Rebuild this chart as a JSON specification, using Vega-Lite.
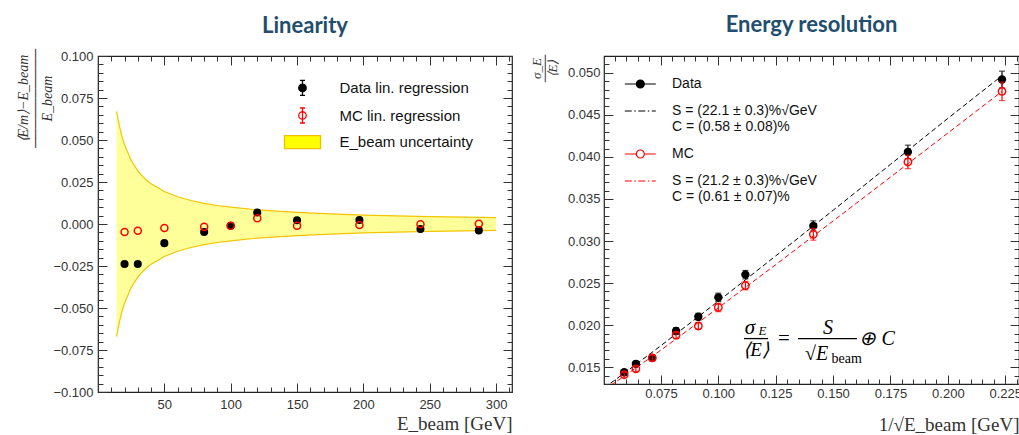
{
  "$schema": "https://vega.github.io/schema/vega-lite/v6.json",
  "background": "white",
  "padding": {"left": 15, "top": 13, "right": 1, "bottom": 0},
  "bounds": "flush",
  "spacing": 92,
  "config": {
    "view": {"stroke": "#222", "strokeWidth": 1.2},
    "axis": {"domain": false, "grid": false, "labelFont": "Liberation Sans", "labelFontSize": 13, "labelColor": "#333", "tickColor": "#333", "tickWidth": 1, "titleFont": "Liberation Serif", "titleFontWeight": "normal", "titleColor": "#333", "labelOverlap": false, "labelFlush": false, "labelBound": false},
    "legend": {"labelFont": "Liberation Sans", "labelColor": "#111", "labelLimit": 400}
  },
  "resolve": {"scale": {"fill": "independent", "stroke": "independent", "shape": "independent", "x": "independent", "y": "independent"}, "legend": {"fill": "independent", "stroke": "independent", "shape": "independent"}},
  "datasets": {
    "band": [
      {"E": 14, "up": 0.067, "lo": -0.067},
      {"E": 16, "up": 0.0587, "lo": -0.0587},
      {"E": 18, "up": 0.0523, "lo": -0.0523},
      {"E": 20, "up": 0.0471, "lo": -0.0471},
      {"E": 25, "up": 0.0378, "lo": -0.0378},
      {"E": 30, "up": 0.0316, "lo": -0.0316},
      {"E": 35, "up": 0.0272, "lo": -0.0272},
      {"E": 40, "up": 0.0239, "lo": -0.0239},
      {"E": 50, "up": 0.0193, "lo": -0.0193},
      {"E": 60, "up": 0.0162, "lo": -0.0162},
      {"E": 70, "up": 0.014, "lo": -0.014},
      {"E": 80, "up": 0.0123, "lo": -0.0123},
      {"E": 90, "up": 0.011, "lo": -0.011},
      {"E": 100, "up": 0.01, "lo": -0.01},
      {"E": 120, "up": 0.0084, "lo": -0.0084},
      {"E": 150, "up": 0.0069, "lo": -0.0069},
      {"E": 175, "up": 0.006, "lo": -0.006},
      {"E": 200, "up": 0.0053, "lo": -0.0053},
      {"E": 250, "up": 0.0044, "lo": -0.0044},
      {"E": 300, "up": 0.0038, "lo": -0.0038}
    ],
    "lin": [
      {"E": 20, "s": "Data", "v": -0.0238},
      {"E": 30, "s": "Data", "v": -0.0238},
      {"E": 50, "s": "Data", "v": -0.0114},
      {"E": 80, "s": "Data", "v": -0.0048},
      {"E": 100, "s": "Data", "v": -0.001},
      {"E": 120, "s": "Data", "v": 0.0068},
      {"E": 150, "s": "Data", "v": 0.0022},
      {"E": 197, "s": "Data", "v": 0.0024},
      {"E": 243, "s": "Data", "v": -0.003},
      {"E": 287, "s": "Data", "v": -0.0038},
      {"E": 20, "s": "MC", "v": -0.0048},
      {"E": 30, "s": "MC", "v": -0.004},
      {"E": 50, "s": "MC", "v": -0.0024},
      {"E": 80, "s": "MC", "v": -0.0017},
      {"E": 100, "s": "MC", "v": -0.001},
      {"E": 120, "s": "MC", "v": 0.0034},
      {"E": 150, "s": "MC", "v": -0.001},
      {"E": 197, "s": "MC", "v": -0.0006},
      {"E": 243, "s": "MC", "v": -0.0002},
      {"E": 287, "s": "MC", "v": 0.0002}
    ],
    "res": [
      {"s": "Data", "x": 0.2236, "y": 0.0492, "lo": 0.0482, "hi": 0.0502},
      {"s": "Data", "x": 0.1826, "y": 0.0406, "lo": 0.0398, "hi": 0.0414},
      {"s": "Data", "x": 0.1414, "y": 0.0318, "lo": 0.0312, "hi": 0.0324},
      {"s": "Data", "x": 0.1118, "y": 0.026, "lo": 0.0255, "hi": 0.0265},
      {"s": "Data", "x": 0.1, "y": 0.0233, "lo": 0.0228, "hi": 0.0238},
      {"s": "Data", "x": 0.0913, "y": 0.021, "lo": 0.0206, "hi": 0.0214},
      {"s": "Data", "x": 0.0816, "y": 0.0193, "lo": 0.0189, "hi": 0.0197},
      {"s": "Data", "x": 0.0712, "y": 0.0161, "lo": 0.0158, "hi": 0.0164},
      {"s": "Data", "x": 0.0641, "y": 0.0154, "lo": 0.0151, "hi": 0.0157},
      {"s": "Data", "x": 0.059, "y": 0.0144, "lo": 0.0141, "hi": 0.0147},
      {"s": "MC", "x": 0.2236, "y": 0.0478, "lo": 0.0467, "hi": 0.0489},
      {"s": "MC", "x": 0.1826, "y": 0.0394, "lo": 0.0386, "hi": 0.0402},
      {"s": "MC", "x": 0.1414, "y": 0.0308, "lo": 0.0301, "hi": 0.0315},
      {"s": "MC", "x": 0.1118, "y": 0.0247, "lo": 0.0242, "hi": 0.0252},
      {"s": "MC", "x": 0.1, "y": 0.0221, "lo": 0.0216, "hi": 0.0226},
      {"s": "MC", "x": 0.0913, "y": 0.0199, "lo": 0.0195, "hi": 0.0203},
      {"s": "MC", "x": 0.0816, "y": 0.0188, "lo": 0.0184, "hi": 0.0192},
      {"s": "MC", "x": 0.0712, "y": 0.0161, "lo": 0.0158, "hi": 0.0164},
      {"s": "MC", "x": 0.0641, "y": 0.0148, "lo": 0.0145, "hi": 0.0151},
      {"s": "MC", "x": 0.059, "y": 0.0141, "lo": 0.0138, "hi": 0.0144}
    ],
    "fit": [
      {"s": "Data", "x": 0.0502, "y": 0.01258},
      {"s": "Data", "x": 0.055, "y": 0.01347},
      {"s": "Data", "x": 0.075, "y": 0.01756},
      {"s": "Data", "x": 0.1, "y": 0.02285},
      {"s": "Data", "x": 0.125, "y": 0.02823},
      {"s": "Data", "x": 0.15, "y": 0.03365},
      {"s": "Data", "x": 0.175, "y": 0.03911},
      {"s": "Data", "x": 0.2, "y": 0.04458},
      {"s": "Data", "x": 0.2236, "y": 0.04966},
      {"s": "MC", "x": 0.0502, "y": 0.01232},
      {"s": "MC", "x": 0.059, "y": 0.01392},
      {"s": "MC", "x": 0.075, "y": 0.01703},
      {"s": "MC", "x": 0.1, "y": 0.02206},
      {"s": "MC", "x": 0.125, "y": 0.02719},
      {"s": "MC", "x": 0.15, "y": 0.03238},
      {"s": "MC", "x": 0.175, "y": 0.0376},
      {"s": "MC", "x": 0.2, "y": 0.04284},
      {"s": "MC", "x": 0.2236, "y": 0.04779}
    ],
    "leg1": [
      {"k1": "Data lin. regression"},
      {"k1": "MC lin. regression"},
      {"k1": "E_beam uncertainty"}
    ],
    "leg2": [
      {"k2": "Data"},
      {"k2": "fitData"},
      {"k2": "MC"},
      {"k2": "fitMC"}
    ],
    "one": [{}]
  },
  "hconcat": [
    {
      "width": 414,
      "height": 336,
      "title": {"text": "Linearity", "font": "Lato", "fontSize": 22, "fontWeight": "bold", "color": "#1f4e6f", "baseline": "alphabetic", "offset": -7},
      "resolve": {"axis": {"x": "independent", "y": "independent"}},
      "layer": [
        {
          "data": {"name": "band"},
          "mark": {"type": "area", "fill": "#ffff00", "fillOpacity": 0.4},
          "encoding": {
            "x": {"field": "E", "type": "quantitative", "scale": {"domain": [0, 312], "nice": false, "zero": false},
              "axis": {"orient": "bottom", "values": [10,20,30,40,50,60,70,80,90,100,110,120,130,140,150,160,170,180,190,200,210,220,230,240,250,260,270,280,290,300,310], "format": "d", "labelExpr": "datum.value % 50 === 0 ? datum.label : ''", "tickSize": {"condition": {"test": "datum.value % 50 === 0", "value": -9}, "value": -5}, "labelPadding": 15, "title": "E_beam [GeV]", "titleAnchor": "end", "titleAlign": "right", "titlePadding": -1, "titleFontSize": 19}},
            "y": {"field": "up", "type": "quantitative", "scale": {"domain": [-0.1, 0.1], "nice": false, "zero": false},
              "axis": {"orient": "left", "values": [-0.1,-0.095,-0.09,-0.085,-0.08,-0.075,-0.07,-0.065,-0.06,-0.055,-0.05,-0.045,-0.04,-0.035,-0.03,-0.025,-0.02,-0.015,-0.01,-0.005,0,0.005,0.01,0.015,0.02,0.025,0.03,0.035,0.04,0.045,0.05,0.055,0.06,0.065,0.07,0.075,0.08,0.085,0.09,0.095,0.1], "format": ".3f", "labelExpr": "abs(datum.value*40 - round(datum.value*40)) < 0.001 ? datum.label : ''", "tickSize": {"condition": {"test": "abs(datum.value*40 - round(datum.value*40)) < 0.001", "value": -9}, "value": -5}, "labelPadding": 14,
                "title": ["⟨E/m⟩−E_beam", "──────────", "E_beam"], "titleFontSize": 14, "titleFontStyle": "italic", "titleLineHeight": 12, "titleAngle": -90, "titleX": -75, "titleY": 42, "titleAlign": "center", "titleBaseline": "middle"}},
            "y2": {"field": "lo"}
          }
        },
        {
          "data": {"name": "band"},
          "mark": {"type": "line", "color": "#f2c500", "strokeWidth": 1.2},
          "encoding": {
            "x": {"field": "E", "type": "quantitative", "scale": {"domain": [0, 312], "nice": false, "zero": false},
              "axis": {"orient": "top", "values": [10,20,30,40,50,60,70,80,90,100,110,120,130,140,150,160,170,180,190,200,210,220,230,240,250,260,270,280,290,300,310], "labels": false, "title": null, "tickSize": {"condition": {"test": "datum.value % 50 === 0", "value": -9}, "value": -5}}},
            "y": {"field": "up", "type": "quantitative", "scale": {"domain": [-0.1, 0.1], "nice": false, "zero": false},
              "axis": {"orient": "right", "values": [-0.1,-0.095,-0.09,-0.085,-0.08,-0.075,-0.07,-0.065,-0.06,-0.055,-0.05,-0.045,-0.04,-0.035,-0.03,-0.025,-0.02,-0.015,-0.01,-0.005,0,0.005,0.01,0.015,0.02,0.025,0.03,0.035,0.04,0.045,0.05,0.055,0.06,0.065,0.07,0.075,0.08,0.085,0.09,0.095,0.1], "labels": false, "title": null, "tickSize": {"condition": {"test": "abs(datum.value*40 - round(datum.value*40)) < 0.001", "value": -9}, "value": -5}}}
          }
        },
        {
          "data": {"name": "band"},
          "mark": {"type": "line", "color": "#f2c500", "strokeWidth": 1.2},
          "encoding": {
            "x": {"field": "E", "type": "quantitative", "scale": {"domain": [0, 312], "nice": false, "zero": false}, "axis": null},
            "y": {"field": "lo", "type": "quantitative", "scale": {"domain": [-0.1, 0.1], "nice": false, "zero": false}, "axis": null}
          }
        },
        {
          "data": {"name": "lin"},
          "transform": [{"filter": "datum.s === 'Data'"}],
          "mark": {"type": "point", "filled": true, "color": "black", "size": 65, "opacity": 1},
          "encoding": {
            "x": {"field": "E", "type": "quantitative", "scale": {"domain": [0, 312], "nice": false, "zero": false}, "axis": null},
            "y": {"field": "v", "type": "quantitative", "scale": {"domain": [-0.1, 0.1], "nice": false, "zero": false}, "axis": null}
          }
        },
        {
          "data": {"name": "lin"},
          "transform": [{"filter": "datum.s === 'MC'"}],
          "mark": {"type": "point", "filled": false, "color": "#ff0000", "size": 50, "strokeWidth": 1.5, "opacity": 1},
          "encoding": {
            "x": {"field": "E", "type": "quantitative", "scale": {"domain": [0, 312], "nice": false, "zero": false}, "axis": null},
            "y": {"field": "v", "type": "quantitative", "scale": {"domain": [-0.1, 0.1], "nice": false, "zero": false}, "axis": null}
          }
        },
        {
          "data": {"name": "leg1"},
          "mark": {"type": "point", "clip": true, "filled": false, "opacity": 1},
          "encoding": {
            "x": {"datum": -100, "type": "quantitative", "scale": {"domain": [0, 312], "nice": false, "zero": false}, "axis": null},
            "y": {"datum": 0, "type": "quantitative", "scale": {"domain": [-0.1, 0.1], "nice": false, "zero": false}, "axis": null},
            "shape": {"field": "k1", "type": "nominal", "scale": {"domain": ["Data lin. regression", "MC lin. regression", "E_beam uncertainty"], "range": ["M-0.75,0A0.75,0.75 0 1,0 0.75,0A0.75,0.75 0 1,0 -0.75,0ZM0,-1.5V-0.75M0,0.75V1.5M-0.5,-1.5H0.5M-0.5,1.5H0.5", "M-0.75,0A0.75,0.75 0 1,0 0.75,0A0.75,0.75 0 1,0 -0.75,0ZM0,-1.5V1.5M-0.5,-1.5H0.5M-0.5,1.5H0.5", "M-3.6,-1.3H3.6V1.3H-3.6Z"]},
              "legend": {"orient": "none", "legendX": 197, "legendY": 24.4, "title": null, "labelFontSize": 15, "symbolSize": 100, "labelOffset": 29.5, "rowPadding": 6.6, "padding": 0, "symbolStrokeWidth": 1.3}},
            "fill": {"field": "k1", "type": "nominal", "scale": {"domain": ["Data lin. regression", "MC lin. regression", "E_beam uncertainty"], "range": ["#000000", "rgba(0,0,0,0)", "#ffff00"]},
              "legend": {"orient": "none", "legendX": 197, "legendY": 24.4, "title": null, "labelFontSize": 15, "symbolSize": 100, "labelOffset": 29.5, "rowPadding": 6.6, "padding": 0, "symbolStrokeWidth": 1.3}},
            "stroke": {"field": "k1", "type": "nominal", "scale": {"domain": ["Data lin. regression", "MC lin. regression", "E_beam uncertainty"], "range": ["#000000", "#ff0000", "#f0c000"]},
              "legend": {"orient": "none", "legendX": 197, "legendY": 24.4, "title": null, "labelFontSize": 15, "symbolSize": 100, "labelOffset": 29.5, "rowPadding": 6.6, "padding": 0, "symbolStrokeWidth": 1.3}}
          }
        }
      ]
    },
    {
      "width": 415,
      "height": 328,
      "title": {"text": "Energy resolution", "font": "Lato", "fontSize": 22, "fontWeight": "bold", "color": "#1f4e6f", "baseline": "alphabetic", "offset": 0},
      "resolve": {"axis": {"x": "independent", "y": "independent"}},
      "layer": [
        {
          "data": {"name": "fit"},
          "transform": [{"filter": "datum.s === 'Data'"}],
          "mark": {"type": "line", "color": "#000000", "strokeWidth": 1, "strokeDash": [5, 3], "clip": true},
          "encoding": {
            "x": {"field": "x", "type": "quantitative", "scale": {"domain": [0.0502, 0.231], "nice": false, "zero": false},
              "axis": {"orient": "bottom", "values": [0.055,0.06,0.065,0.07,0.075,0.08,0.085,0.09,0.095,0.1,0.105,0.11,0.115,0.12,0.125,0.13,0.135,0.14,0.145,0.15,0.155,0.16,0.165,0.17,0.175,0.18,0.185,0.19,0.195,0.2,0.205,0.21,0.215,0.22,0.225,0.23], "format": ".3f", "labelExpr": "abs(datum.value*40 - round(datum.value*40)) < 0.001 ? datum.label : ''", "tickSize": {"condition": {"test": "abs(datum.value*40 - round(datum.value*40)) < 0.001", "value": -9}, "value": -5}, "labelPadding": 12, "title": "1/√E_beam [GeV]", "titleAnchor": "end", "titleAlign": "right", "titlePadding": 11, "titleFontSize": 19}},
            "y": {"field": "y", "type": "quantitative", "scale": {"domain": [0.013, 0.052], "nice": false, "zero": false},
              "axis": {"orient": "left", "values": [0.013,0.014,0.015,0.016,0.017,0.018,0.019,0.02,0.021,0.022,0.023,0.024,0.025,0.026,0.027,0.028,0.029,0.03,0.031,0.032,0.033,0.034,0.035,0.036,0.037,0.038,0.039,0.04,0.041,0.042,0.043,0.044,0.045,0.046,0.047,0.048,0.049,0.05,0.051], "format": ".3f", "labelExpr": "abs(datum.value*200 - round(datum.value*200)) < 0.001 ? datum.label : ''", "tickSize": {"condition": {"test": "abs(datum.value*200 - round(datum.value*200)) < 0.001", "value": -9}, "value": -5}, "labelPadding": 13,
                "title": ["σ_E", "───", "⟨E⟩"], "titleFontSize": 13, "titleFontStyle": "italic", "titleLineHeight": 8, "titleAngle": -90, "titleX": -68, "titleY": 12, "titleAlign": "center", "titleBaseline": "middle"}}
          }
        },
        {
          "data": {"name": "fit"},
          "transform": [{"filter": "datum.s === 'MC'"}],
          "mark": {"type": "line", "color": "#ff0000", "strokeWidth": 1, "strokeDash": [5, 3], "clip": true},
          "encoding": {
            "x": {"field": "x", "type": "quantitative", "scale": {"domain": [0.0502, 0.231], "nice": false, "zero": false},
              "axis": {"orient": "top", "values": [0.055,0.06,0.065,0.07,0.075,0.08,0.085,0.09,0.095,0.1,0.105,0.11,0.115,0.12,0.125,0.13,0.135,0.14,0.145,0.15,0.155,0.16,0.165,0.17,0.175,0.18,0.185,0.19,0.195,0.2,0.205,0.21,0.215,0.22,0.225,0.23], "labels": false, "title": null, "tickSize": {"condition": {"test": "abs(datum.value*40 - round(datum.value*40)) < 0.001", "value": -9}, "value": -5}}},
            "y": {"field": "y", "type": "quantitative", "scale": {"domain": [0.013, 0.052], "nice": false, "zero": false},
              "axis": {"orient": "right", "values": [0.013,0.014,0.015,0.016,0.017,0.018,0.019,0.02,0.021,0.022,0.023,0.024,0.025,0.026,0.027,0.028,0.029,0.03,0.031,0.032,0.033,0.034,0.035,0.036,0.037,0.038,0.039,0.04,0.041,0.042,0.043,0.044,0.045,0.046,0.047,0.048,0.049,0.05,0.051], "labels": false, "title": null, "tickSize": {"condition": {"test": "abs(datum.value*200 - round(datum.value*200)) < 0.001", "value": -9}, "value": -5}}}
          }
        },
        {
          "data": {"name": "res"},
          "transform": [{"filter": "datum.s === 'Data'"}],
          "mark": {"type": "rule", "color": "#000000", "strokeWidth": 1.2},
          "encoding": {
            "x": {"field": "x", "type": "quantitative", "scale": {"domain": [0.0502, 0.231], "nice": false, "zero": false}, "axis": null},
            "y": {"field": "lo", "type": "quantitative", "scale": {"domain": [0.013, 0.052], "nice": false, "zero": false}, "axis": null},
            "y2": {"field": "hi"}
          }
        },
        {
          "data": {"name": "res"},
          "transform": [{"filter": "datum.s === 'Data'"}, {"fold": ["lo", "hi"], "as": ["k", "v"]}],
          "mark": {"type": "tick", "orient": "horizontal", "color": "#000000", "size": 6, "thickness": 1.2},
          "encoding": {
            "x": {"field": "x", "type": "quantitative", "scale": {"domain": [0.0502, 0.231], "nice": false, "zero": false}, "axis": null},
            "y": {"field": "v", "type": "quantitative", "scale": {"domain": [0.013, 0.052], "nice": false, "zero": false}, "axis": null}
          }
        },
        {
          "data": {"name": "res"},
          "transform": [{"filter": "datum.s === 'Data'"}],
          "mark": {"type": "point", "filled": true, "color": "#000000", "size": 70, "opacity": 1},
          "encoding": {
            "x": {"field": "x", "type": "quantitative", "scale": {"domain": [0.0502, 0.231], "nice": false, "zero": false}, "axis": null},
            "y": {"field": "y", "type": "quantitative", "scale": {"domain": [0.013, 0.052], "nice": false, "zero": false}, "axis": null}
          }
        },
        {
          "data": {"name": "res"},
          "transform": [{"filter": "datum.s === 'MC'"}],
          "mark": {"type": "rule", "color": "#ff0000", "strokeWidth": 1.2},
          "encoding": {
            "x": {"field": "x", "type": "quantitative", "scale": {"domain": [0.0502, 0.231], "nice": false, "zero": false}, "axis": null},
            "y": {"field": "lo", "type": "quantitative", "scale": {"domain": [0.013, 0.052], "nice": false, "zero": false}, "axis": null},
            "y2": {"field": "hi"}
          }
        },
        {
          "data": {"name": "res"},
          "transform": [{"filter": "datum.s === 'MC'"}, {"fold": ["lo", "hi"], "as": ["k", "v"]}],
          "mark": {"type": "tick", "orient": "horizontal", "color": "#ff0000", "size": 6, "thickness": 1.2},
          "encoding": {
            "x": {"field": "x", "type": "quantitative", "scale": {"domain": [0.0502, 0.231], "nice": false, "zero": false}, "axis": null},
            "y": {"field": "v", "type": "quantitative", "scale": {"domain": [0.013, 0.052], "nice": false, "zero": false}, "axis": null}
          }
        },
        {
          "data": {"name": "res"},
          "transform": [{"filter": "datum.s === 'MC'"}],
          "mark": {"type": "point", "filled": false, "color": "#ff0000", "size": 55, "strokeWidth": 1.4, "opacity": 1},
          "encoding": {
            "x": {"field": "x", "type": "quantitative", "scale": {"domain": [0.0502, 0.231], "nice": false, "zero": false}, "axis": null},
            "y": {"field": "y", "type": "quantitative", "scale": {"domain": [0.013, 0.052], "nice": false, "zero": false}, "axis": null}
          }
        },
        {
          "data": {"name": "leg2"},
          "mark": {"type": "point", "clip": true, "filled": false, "opacity": 1},
          "encoding": {
            "x": {"datum": 0, "type": "quantitative", "scale": {"domain": [0.0502, 0.231], "nice": false, "zero": false}, "axis": null},
            "y": {"datum": 0, "type": "quantitative", "scale": {"domain": [0.013, 0.052], "nice": false, "zero": false}, "axis": null},
            "shape": {"field": "k2", "type": "nominal", "scale": {"domain": ["Data", "fitData", "MC", "fitMC"], "range": ["M-3.1,0H3.1M-0.8,0A0.8,0.8 0 1,0 0.8,0A0.8,0.8 0 1,0 -0.8,0Z", "M-3.1,0H-1.7M-1.2,0H-0.9M-0.4,0H1.0M1.5,0H1.8M2.3,0H3.1", "M-3.1,0H-0.8M0.8,0H3.1M-0.8,0A0.8,0.8 0 1,0 0.8,0A0.8,0.8 0 1,0 -0.8,0Z", "M-3.1,0H-1.7M-1.2,0H-0.9M-0.4,0H1.0M1.5,0H1.8M2.3,0H3.1"]},
              "legend": {"orient": "none", "legendX": 29.3, "legendY": 21, "title": null, "labelFontSize": 14, "symbolSize": 100, "labelOffset": 24.7, "rowPadding": 13, "padding": 0, "symbolStrokeWidth": 1.2, "labelExpr": "datum.label === 'fitData' ? ['S = (22.1 ± 0.3)%√GeV', 'C = (0.58 ± 0.08)%'] : datum.label === 'fitMC' ? ['S = (21.2 ± 0.3)%√GeV', 'C = (0.61 ± 0.07)%'] : datum.label"}},
            "fill": {"field": "k2", "type": "nominal", "scale": {"domain": ["Data", "fitData", "MC", "fitMC"], "range": ["#000000", "rgba(0,0,0,0)", "rgba(0,0,0,0)", "rgba(0,0,0,0)"]},
              "legend": {"orient": "none", "legendX": 29.3, "legendY": 21, "title": null, "labelFontSize": 14, "symbolSize": 100, "labelOffset": 24.7, "rowPadding": 13, "padding": 0, "symbolStrokeWidth": 1.2, "labelExpr": "datum.label === 'fitData' ? ['S = (22.1 ± 0.3)%√GeV', 'C = (0.58 ± 0.08)%'] : datum.label === 'fitMC' ? ['S = (21.2 ± 0.3)%√GeV', 'C = (0.61 ± 0.07)%'] : datum.label"}},
            "stroke": {"field": "k2", "type": "nominal", "scale": {"domain": ["Data", "fitData", "MC", "fitMC"], "range": ["#000000", "#000000", "#ff0000", "#ff0000"]},
              "legend": {"orient": "none", "legendX": 29.3, "legendY": 21, "title": null, "labelFontSize": 14, "symbolSize": 100, "labelOffset": 24.7, "rowPadding": 13, "padding": 0, "symbolStrokeWidth": 1.2, "labelExpr": "datum.label === 'fitData' ? ['S = (22.1 ± 0.3)%√GeV', 'C = (0.58 ± 0.08)%'] : datum.label === 'fitMC' ? ['S = (21.2 ± 0.3)%√GeV', 'C = (0.61 ± 0.07)%'] : datum.label"}}
          }
        },
        {
          "data": {"name": "one"},
          "mark": {"type": "text", "text": "σ", "font": "Liberation Serif", "fontSize": 21, "fontStyle": "italic", "color": "#000", "align": "center", "baseline": "middle"},
          "encoding": {
            "x": {"datum": 0.1138, "type": "quantitative", "scale": {"domain": [0.0502, 0.231], "nice": false, "zero": false}, "axis": null},
            "y": {"datum": 0.0197, "type": "quantitative", "scale": {"domain": [0.013, 0.052], "nice": false, "zero": false}, "axis": null}
          }
        },
        {
          "data": {"name": "one"},
          "mark": {"type": "text", "text": "E", "font": "Liberation Serif", "fontSize": 13, "fontStyle": "italic", "color": "#000", "align": "center", "baseline": "middle"},
          "encoding": {
            "x": {"datum": 0.1192, "type": "quantitative", "scale": {"domain": [0.0502, 0.231], "nice": false, "zero": false}, "axis": null},
            "y": {"datum": 0.0193, "type": "quantitative", "scale": {"domain": [0.013, 0.052], "nice": false, "zero": false}, "axis": null}
          }
        },
        {
          "data": {"name": "one"},
          "mark": {"type": "text", "text": "⟨E⟩", "font": "Liberation Serif", "fontSize": 19, "fontStyle": "italic", "color": "#000", "align": "center", "baseline": "middle"},
          "encoding": {
            "x": {"datum": 0.1164, "type": "quantitative", "scale": {"domain": [0.0502, 0.231], "nice": false, "zero": false}, "axis": null},
            "y": {"datum": 0.017, "type": "quantitative", "scale": {"domain": [0.013, 0.052], "nice": false, "zero": false}, "axis": null}
          }
        },
        {
          "data": {"name": "one"},
          "mark": {"type": "rule", "color": "#000", "strokeWidth": 1.3},
          "encoding": {
            "x": {"datum": 0.1112, "type": "quantitative", "scale": {"domain": [0.0502, 0.231], "nice": false, "zero": false}, "axis": null},
            "x2": {"datum": 0.1217},
            "y": {"datum": 0.0184, "type": "quantitative", "scale": {"domain": [0.013, 0.052], "nice": false, "zero": false}, "axis": null}
          }
        },
        {
          "data": {"name": "one"},
          "mark": {"type": "text", "text": "=", "font": "Liberation Serif", "fontSize": 21, "color": "#000", "align": "center", "baseline": "middle"},
          "encoding": {
            "x": {"datum": 0.1286, "type": "quantitative", "scale": {"domain": [0.0502, 0.231], "nice": false, "zero": false}, "axis": null},
            "y": {"datum": 0.0184, "type": "quantitative", "scale": {"domain": [0.013, 0.052], "nice": false, "zero": false}, "axis": null}
          }
        },
        {
          "data": {"name": "one"},
          "mark": {"type": "text", "text": "S", "font": "Liberation Serif", "fontSize": 20, "fontStyle": "italic", "color": "#000", "align": "center", "baseline": "middle"},
          "encoding": {
            "x": {"datum": 0.1478, "type": "quantitative", "scale": {"domain": [0.0502, 0.231], "nice": false, "zero": false}, "axis": null},
            "y": {"datum": 0.0196, "type": "quantitative", "scale": {"domain": [0.013, 0.052], "nice": false, "zero": false}, "axis": null}
          }
        },
        {
          "data": {"name": "one"},
          "mark": {"type": "rule", "color": "#000", "strokeWidth": 1.3},
          "encoding": {
            "x": {"datum": 0.1347, "type": "quantitative", "scale": {"domain": [0.0502, 0.231], "nice": false, "zero": false}, "axis": null},
            "x2": {"datum": 0.1604},
            "y": {"datum": 0.0184, "type": "quantitative", "scale": {"domain": [0.013, 0.052], "nice": false, "zero": false}, "axis": null}
          }
        },
        {
          "data": {"name": "one"},
          "mark": {"type": "text", "text": "√E", "font": "Liberation Serif", "fontSize": 20, "fontStyle": "italic", "color": "#000", "align": "center", "baseline": "middle"},
          "encoding": {
            "x": {"datum": 0.1428, "type": "quantitative", "scale": {"domain": [0.0502, 0.231], "nice": false, "zero": false}, "axis": null},
            "y": {"datum": 0.0166, "type": "quantitative", "scale": {"domain": [0.013, 0.052], "nice": false, "zero": false}, "axis": null}
          }
        },
        {
          "data": {"name": "one"},
          "mark": {"type": "text", "text": "beam", "font": "Liberation Serif", "fontSize": 14, "color": "#000", "align": "center", "baseline": "middle"},
          "encoding": {
            "x": {"datum": 0.1559, "type": "quantitative", "scale": {"domain": [0.0502, 0.231], "nice": false, "zero": false}, "axis": null},
            "y": {"datum": 0.016, "type": "quantitative", "scale": {"domain": [0.013, 0.052], "nice": false, "zero": false}, "axis": null}
          }
        },
        {
          "data": {"name": "one"},
          "mark": {"type": "text", "text": "⊕ C", "font": "Liberation Serif", "fontSize": 20, "fontStyle": "italic", "color": "#000", "align": "center", "baseline": "middle"},
          "encoding": {
            "x": {"datum": 0.1692, "type": "quantitative", "scale": {"domain": [0.0502, 0.231], "nice": false, "zero": false}, "axis": null},
            "y": {"datum": 0.0184, "type": "quantitative", "scale": {"domain": [0.013, 0.052], "nice": false, "zero": false}, "axis": null}
          }
        }
      ]
    }
  ]
}
